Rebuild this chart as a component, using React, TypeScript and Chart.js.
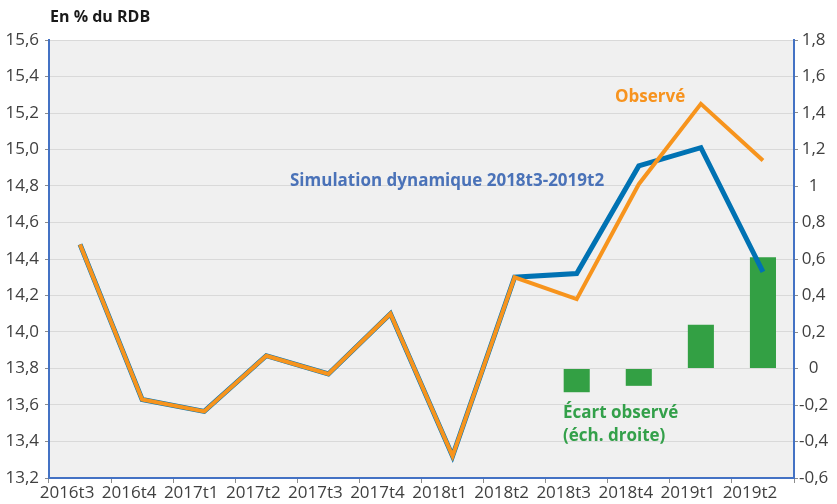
import React, { useEffect, useRef } from "react";
import { Chart, registerables } from "chart.js";

Chart.register(...registerables);

const categories = ["2016t3", "2016t4", "2017t1", "2017t2", "2017t3", "2017t4", "2018t1", "2018t2", "2018t3", "2018t4", "2019t1", "2019t2"];
const observe = [14.48, 13.63, 13.565, 13.87, 13.77, 14.1, 13.32, 14.3, 14.18, 14.81, 15.25, 14.94];
const simulation = [14.48, 13.63, 13.565, 13.87, 13.77, 14.1, 13.32, 14.3, 14.32, 14.91, 15.01, 14.33];
const ecart = [null, null, null, null, null, null, null, null, -0.13, -0.095, 0.24, 0.61];

const FONT = "'Open Sans', 'Noto Sans', sans-serif";

const bgPlugin = {
  id: "plotBg",
  beforeDraw(chart: any) {
    const { ctx, chartArea } = chart;
    ctx.save();
    ctx.fillStyle = "#f0f0f0";
    ctx.fillRect(chartArea.left, chartArea.top, chartArea.right - chartArea.left, chartArea.bottom - chartArea.top);
    ctx.restore();
  },
};

const textPlugin = {
  id: "texts",
  afterDraw(chart: any) {
    const { ctx } = chart;
    ctx.save();
    ctx.textBaseline = "middle";
    ctx.textAlign = "left";
    ctx.font = `bold 16px ${FONT}`;
    ctx.fillStyle = "#1a1a1a";
    ctx.fillText("En % du RDB", 50, 17);
    ctx.font = `bold 17px ${FONT}`;
    ctx.fillStyle = "#f7931e";
    ctx.fillText("Observé", 615, 97);
    ctx.fillStyle = "#4a72b8";
    ctx.fillText("Simulation dynamique 2018t3-2019t2", 290, 181);
    ctx.fillStyle = "#33a04a";
    ctx.fillText("Écart observé", 563, 413);
    ctx.fillText("(éch. droite)", 563, 436);
    ctx.restore();
  },
};

export default function App() {
  const ref = useRef<HTMLCanvasElement>(null);
  useEffect(() => {
    document.body.style.margin = "0";
    const canvas = ref.current;
    if (!canvas) return;
    const tickFont = { family: FONT, size: 17 };
    const chart = new Chart(canvas, {
      type: "bar",
      data: {
        labels: categories,
        datasets: [
          {
            type: "line",
            label: "Observé",
            data: observe,
            borderColor: "#f7941d",
            borderWidth: 4,
            pointRadius: 0,
            tension: 0,
            yAxisID: "y",
            order: 0,
          },
          {
            type: "line",
            label: "Simulation",
            data: simulation,
            borderColor: "#0072b3",
            borderWidth: 5,
            pointRadius: 0,
            tension: 0,
            yAxisID: "y",
            order: 1,
          },
          {
            type: "bar",
            label: "Écart observé",
            data: ecart as any,
            backgroundColor: "#33a044",
            borderWidth: 0,
            barPercentage: 0.42,
            categoryPercentage: 1,
            yAxisID: "y2",
            order: 2,
          },
        ],
      },
      options: {
        responsive: false,
        animation: false,
        layout: { padding: { top: 40, left: 0, right: 0, bottom: 0 } },
        plugins: { legend: { display: false }, tooltip: { enabled: false } },
        scales: {
          x: {
            type: "category",
            offset: true,
            grid: { offset: true, drawOnChartArea: false, drawTicks: true, tickLength: 5, tickColor: "#8c8c8c" },
            border: { color: "#4472c4", width: 2 },
            ticks: { font: tickFont, color: "#404040", maxRotation: 0, autoSkip: false, labelOffset: -13, padding: 0 },
            afterFit(scale: any) {
              scale.height = 26;
            },
          },
          y: {
            position: "left",
            min: 13.2,
            max: 15.6,
            grid: { color: "#d9d9d9", lineWidth: 1, drawTicks: true, tickLength: 4, tickColor: "#8c8c8c" },
            border: { color: "#4472c4", width: 2 },
            ticks: {
              stepSize: 0.2,
              font: tickFont,
              color: "#404040",
              padding: 6,
              callback: (v: any) => Number(v).toFixed(1).replace(".", ","),
            },
            afterFit(scale: any) {
              scale.width = 49;
            },
          },
          y2: {
            position: "right",
            min: -0.6,
            max: 1.8,
            grid: { drawOnChartArea: false, drawTicks: true, tickLength: 4, tickColor: "#8c8c8c" },
            border: { color: "#4472c4", width: 2 },
            ticks: {
              stepSize: 0.2,
              font: tickFont,
              color: "#404040",
              padding: 1,
              crossAlign: "center",
              callback: (v: any) => {
                const r = Math.round(Number(v) * 10) / 10;
                return String(r).replace(".", ",");
              },
            },
            afterFit(scale: any) {
              scale.width = 43;
            },
          },
        },
      },
      plugins: [bgPlugin, textPlugin],
    } as any);
    return () => chart.destroy();
  }, []);
  return <canvas ref={ref} width={837} height={504} style={{ display: "block", width: 837, height: 504 }} />;
}
